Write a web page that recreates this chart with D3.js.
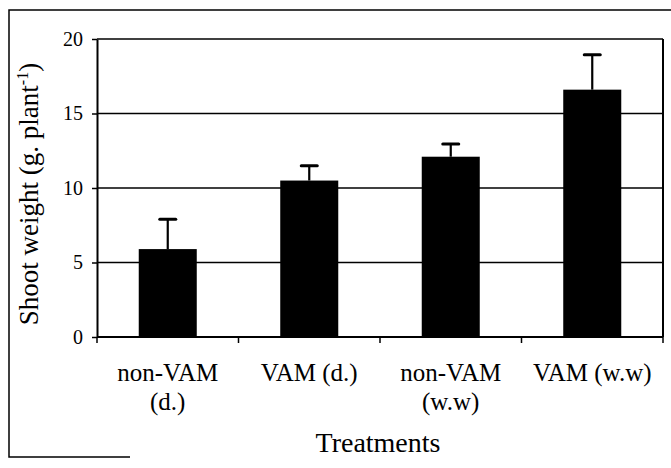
<!DOCTYPE html>
<html>
<head>
<meta charset="utf-8">
<script src="https://d3js.org/d3.v7.min.js"></script>
<style>
  body { margin: 0; background: #fff; }
  text { font-family: "Liberation Serif", "DejaVu Serif", serif; fill: #000; }
</style>
</head>
<body>
<div id="plot"></div>
<script>
// data
const treatments = [["non-VAM", "(d.)"], ["VAM (d.)"], ["non-VAM", "(w.w)"], ["VAM (w.w)"]];
const shootWeight = [5.9, 10.5, 12.1, 16.6];
const errorUp = [2.0, 1.0, 0.85, 2.35];
const yTicks = [0, 5, 10, 15, 20];

window.addEventListener("load", main)

function main(){
  const width = 671, height = 468;
  const left = 97, right = 663, top = 39, bottom = 337;

  let svg = d3.select("#plot").append("svg")
    .attr("width", width)
    .attr("height", height);

  // outer frame (scan cuts the right and most of the bottom edge)
  svg.append("path")
    .attr("d", "M130,457 L9,457 L9,10 L680,10")
    .attr("fill", "none")
    .attr("stroke", "#000")
    .attr("stroke-width", 1.5);

  let x = d3.scaleBand()
    .domain(d3.range(treatments.length))
    .range([left, right])
    .padding(0);

  let y = d3.scaleLinear()
    .domain([0, 20])
    .range([bottom, top]);

  const barW = x.bandwidth() * 0.41;

  // gridlines
  svg.append("g")
    .selectAll("line")
    .data(yTicks.filter(d => d > 0))
    .join("line")
    .attr("x1", left).attr("x2", right)
    .attr("y1", d => y(d)).attr("y2", d => y(d))
    .attr("stroke", "#000")
    .attr("stroke-width", 1.4);

  // right border of the plot
  svg.append("line")
    .attr("x1", right).attr("x2", right)
    .attr("y1", top).attr("y2", bottom)
    .attr("stroke", "#000")
    .attr("stroke-width", 2);

  // bars
  svg.append("g")
    .selectAll("rect")
    .data(shootWeight)
    .join("rect")
    .attr("x", (d, i) => x(i) + x.bandwidth() / 2 - barW / 2)
    .attr("y", d => y(d))
    .attr("width", barW)
    .attr("height", d => y(0) - y(d))
    .attr("fill", "#000");

  // error bars
  let err = svg.append("g")
    .attr("stroke", "#000");
  err.selectAll("line.stem")
    .data(shootWeight)
    .join("line")
    .attr("class", "stem")
    .attr("x1", (d, i) => x(i) + x.bandwidth() / 2)
    .attr("x2", (d, i) => x(i) + x.bandwidth() / 2)
    .attr("y1", d => y(d))
    .attr("y2", (d, i) => y(d + errorUp[i]))
    .attr("stroke-width", 2.2);
  err.selectAll("line.cap")
    .data(shootWeight)
    .join("line")
    .attr("class", "cap")
    .attr("x1", (d, i) => x(i) + x.bandwidth() / 2 - 8)
    .attr("x2", (d, i) => x(i) + x.bandwidth() / 2 + 8)
    .attr("y1", (d, i) => y(d + errorUp[i]))
    .attr("y2", (d, i) => y(d + errorUp[i]))
    .attr("stroke-width", 3)
    .attr("stroke-linecap", "round");

  // y axis
  let yAxis = svg.append("g")
    .attr("transform", `translate(${left},0)`)
    .call(d3.axisLeft(y).tickValues(yTicks).tickSize(5).tickPadding(9).tickSizeOuter(0));
  yAxis.select(".domain").attr("stroke-width", 2);
  yAxis.selectAll(".tick line").attr("stroke-width", 1.5);
  yAxis.selectAll(".tick text")
    .style("font-family", "Liberation Serif")
    .style("font-size", "20px");

  // x axis: ticks at category boundaries
  let xAxisG = svg.append("g")
    .attr("transform", `translate(0,${bottom})`);
  xAxisG.append("line")
    .attr("x1", left).attr("x2", right)
    .attr("stroke", "#000").attr("stroke-width", 2);
  xAxisG.selectAll("line.tick")
    .data(d3.range(treatments.length + 1))
    .join("line")
    .attr("class", "tick")
    .attr("x1", i => left + i * x.step())
    .attr("x2", i => left + i * x.step())
    .attr("y1", 0).attr("y2", 6)
    .attr("stroke", "#000").attr("stroke-width", 1.5);

  // category labels
  svg.append("g")
    .selectAll("text")
    .data(treatments)
    .join("text")
    .attr("x", (d, i) => x(i) + x.bandwidth() / 2)
    .attr("y", 381)
    .attr("text-anchor", "middle")
    .style("font-size", "25px")
    .selectAll("tspan")
    .data(d => d)
    .join("tspan")
    .attr("x", function() { return this.parentNode.getAttribute("x"); })
    .attr("dy", (d, j) => j === 0 ? 0 : 29)
    .text(d => d);

  // axis titles
  svg.append("text")
    .attr("x", 378)
    .attr("y", 452)
    .attr("text-anchor", "middle")
    .style("font-size", "28px")
    .text("Treatments");

  let yTitle = svg.append("text")
    .attr("transform", "translate(38,194) rotate(-90)")
    .attr("text-anchor", "middle")
    .style("font-size", "27px");
  yTitle.append("tspan").text("Shoot weight (g. plant");
  yTitle.append("tspan").attr("dy", -10).style("font-size", "16px").text("-1");
  yTitle.append("tspan").attr("dy", 10).text(")");
}
</script>
</body>
</html>
